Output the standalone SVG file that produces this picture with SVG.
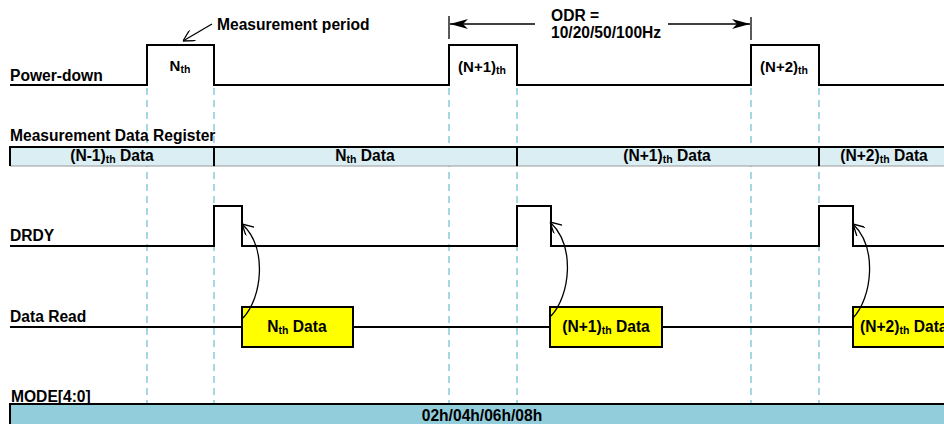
<svg xmlns="http://www.w3.org/2000/svg" width="944" height="424" viewBox="0 0 944 424">
  <style>
    text { font-family: "Liberation Sans", Arial, sans-serif; font-weight: bold; fill: #000; }
    .lbl { font-size: 15.6px; }
    .pl { font-size: 15px; }
    .sub { font-size: 10.5px; }
    .wave { fill: none; stroke: #000; stroke-width: 2; }
    .guide { stroke: #6bbfcc; stroke-width: 1.2; stroke-dasharray: 7 5; }
    .box { fill: #ffff00; stroke: #000; stroke-width: 2; }
    .curve { fill: none; stroke: #000; stroke-width: 1.3; marker-end: url(#open); }
    .odr { stroke: #000; stroke-width: 1.3; marker-end: url(#stealth); }
  </style>
  <defs>
    <marker id="open" viewBox="0 0 12 12" refX="12" refY="6" markerWidth="12" markerHeight="12" markerUnits="userSpaceOnUse" orient="auto">
      <path d="M1,0 L12,6 L1,12" fill="none" stroke="#000" stroke-width="1.3"/>
    </marker>
    <marker id="stealth" viewBox="0 0 18 10" refX="18" refY="5" markerWidth="18" markerHeight="10" markerUnits="userSpaceOnUse" orient="auto">
      <path d="M0,0 L18,5 L0,10 L5,5 Z" fill="#000"/>
    </marker>
  </defs>

  <!-- vertical timing guides -->
  <g id="guides">
    <line class="guide" x1="147" y1="88" x2="147" y2="404"/>
    <line class="guide" x1="214" y1="88" x2="214" y2="404"/>
    <line class="guide" x1="449" y1="88" x2="449" y2="404"/>
    <line class="guide" x1="517" y1="88" x2="517" y2="404"/>
    <line class="guide" x1="751" y1="88" x2="751" y2="404"/>
    <line class="guide" x1="819" y1="88" x2="819" y2="404"/>
  </g>

  <!-- Power-down signal -->
  <g id="power-down">
    <text class="lbl" x="10" y="81">Power-down</text>
    <path class="wave" d="M10,85 H147 V45 H214 V85 H449 V45 H517 V85 H751 V45 H819 V85 H944"/>
    <text class="pl" x="180" y="71" text-anchor="middle">N<tspan class="sub" dy="2">th</tspan></text>
    <text class="pl" x="482" y="72" text-anchor="middle">(N+1)<tspan class="sub" dy="2">th</tspan></text>
    <text class="pl" x="784" y="72" text-anchor="middle">(N+2)<tspan class="sub" dy="2">th</tspan></text>
  </g>

  <!-- Measurement period annotation -->
  <g id="measurement-period">
    <line x1="212" y1="24" x2="183" y2="41" stroke="#000" stroke-width="1.3" marker-end="url(#open)"/>
    <text class="lbl" x="217" y="30">Measurement period</text>
  </g>

  <!-- ODR span -->
  <g id="odr">
    <line x1="449" y1="16" x2="449" y2="39" stroke="#000" stroke-width="1.3"/>
    <line x1="751" y1="17" x2="751" y2="40" stroke="#000" stroke-width="1.3"/>
    <text class="lbl" x="551" y="21">ODR =</text>
    <text class="lbl" x="551" y="38">10/20/50/100Hz</text>
  </g>

  <!-- Measurement Data Register -->
  <g id="data-register">
    <text class="lbl" x="10" y="141">Measurement Data Register</text>
    <rect x="10" y="147" width="940" height="19" fill="#daeef3"/>
    <line x1="10" y1="166" x2="944" y2="166" stroke="#9a9a9a" stroke-width="1"/>
    <line x1="10" y1="147" x2="944" y2="147" stroke="#000" stroke-width="2"/>
    <line x1="10" y1="146" x2="10" y2="166" stroke="#000" stroke-width="2"/>
    <line x1="214" y1="147" x2="214" y2="166" stroke="#000" stroke-width="2"/>
    <line x1="517" y1="147" x2="517" y2="166" stroke="#000" stroke-width="2"/>
    <line x1="819" y1="147" x2="819" y2="166" stroke="#000" stroke-width="2"/>
    <text class="lbl" x="112" y="161" text-anchor="middle">(N-1)<tspan class="sub" dy="2">th</tspan><tspan dy="-2"> Data</tspan></text>
    <text class="lbl" x="365" y="161" text-anchor="middle">N<tspan class="sub" dy="2">th</tspan><tspan dy="-2"> Data</tspan></text>
    <text class="lbl" x="667" y="161" text-anchor="middle">(N+1)<tspan class="sub" dy="2">th</tspan><tspan dy="-2"> Data</tspan></text>
    <text class="lbl" x="884" y="161" text-anchor="middle">(N+2)<tspan class="sub" dy="2">th</tspan><tspan dy="-2"> Data</tspan></text>
  </g>

  <!-- DRDY signal -->
  <g id="drdy">
    <text class="lbl" x="10" y="241">DRDY</text>
    <path class="wave" d="M10,246 H214 V206 H242 V246 H517 V206 H551 V246 H819 V206 H853 V246 H944"/>
  </g>

  <!-- Data Read signal -->
  <g id="data-read">
    <text class="lbl" x="10" y="322">Data Read</text>
    <line x1="10" y1="327" x2="944" y2="327" stroke="#000" stroke-width="2"/>
  </g>
  <g id="read-n">
    <rect class="box" x="242" y="307" width="111" height="40"/>
    <text class="lbl" x="297" y="332" text-anchor="middle">N<tspan class="sub" dy="2">th</tspan><tspan dy="-2"> Data</tspan></text>
  </g>
  <g id="read-n1">
    <rect class="box" x="550" y="307" width="112" height="40"/>
    <text class="lbl" x="606" y="332" text-anchor="middle">(N+1)<tspan class="sub" dy="2">th</tspan><tspan dy="-2"> Data</tspan></text>
  </g>
  <g id="read-n2">
    <rect class="box" x="853" y="307" width="110" height="40"/>
    <text class="lbl" x="860" y="332">(N+2)<tspan class="sub" dy="2">th</tspan><tspan dy="-2"> Data</tspan></text>
  </g>

  <!-- connectors: read start back to DRDY falling edge -->
  <g id="connectors">
    <path class="curve" d="M243,318 C262,298 268,248 242,224"/>
    <path class="curve" d="M551,316 C570,296 576,246 550,222"/>
    <path class="curve" d="M853,318 C872,298 878,248 853,224"/>
    <line class="odr" x1="535" y1="24" x2="450" y2="24"/>
    <line class="odr" x1="668" y1="24" x2="750" y2="24"/>
  </g>

  <!-- MODE[4:0] -->
  <g id="mode">
    <text class="lbl" x="11" y="402">MODE[4:0]</text>
    <rect x="10" y="404" width="940" height="24" fill="#92cddc"/>
    <line x1="10" y1="404" x2="944" y2="404" stroke="#000" stroke-width="2"/>
    <line x1="10" y1="403" x2="10" y2="424" stroke="#000" stroke-width="2"/>
    <text class="lbl" x="482" y="421" text-anchor="middle">02h/04h/06h/08h</text>
  </g>
</svg>
